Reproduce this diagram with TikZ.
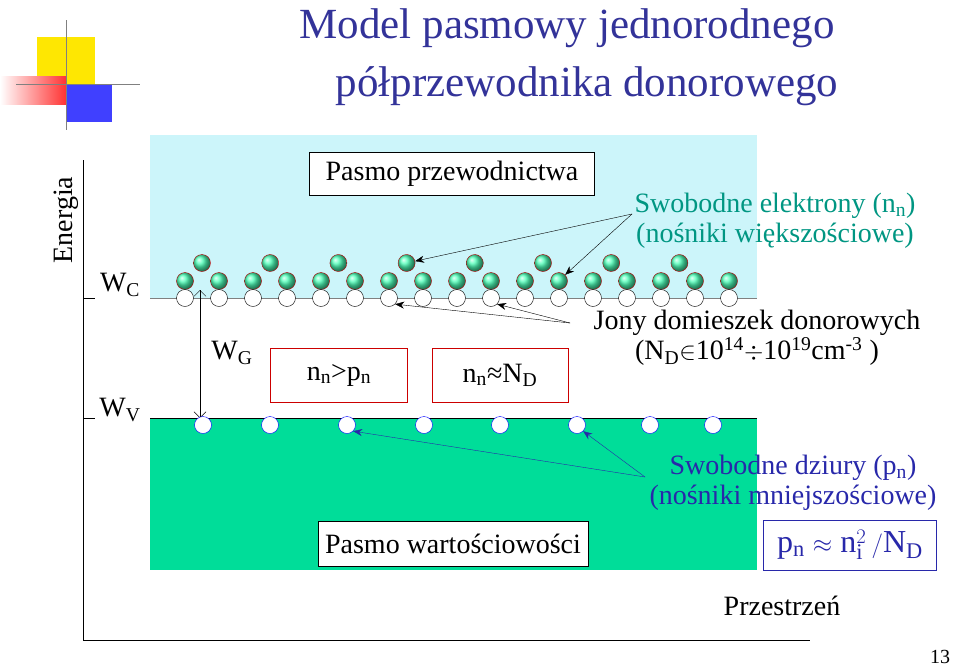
\documentclass[tikz,border=0pt]{standalone}
\usepackage{fontspec}
\setmainfont{Liberation Serif}
\usetikzlibrary{arrows.meta}
\definecolor{titleblue}{RGB}{51,51,153}
\definecolor{condcyan}{RGB}{204,245,250}
\definecolor{valgreen}{RGB}{0,221,153}
\definecolor{elteal}{RGB}{0,150,130}
\definecolor{holeblue}{RGB}{40,40,170}
\tikzset{
  lbl/.style={font=\fontsize{28}{30}\selectfont},
  box/.style={draw,fill=white,inner sep=0pt},
  elec/.style={circle,draw=red!70!black,inner sep=0pt,minimum size=17pt,ball color=green!40!cyan!70!white},
  ion/.style={circle,draw,fill=white,inner sep=0pt,minimum size=17pt},
  hole/.style={circle,draw=blue,fill=white,inner sep=0pt,minimum size=17pt},
  arr/.style={-{Stealth[length=9pt,width=7pt]}}
}
\begin{document}
\begin{tikzpicture}[x=1pt,y=-1pt]
  \useasboundingbox (0,0) rectangle (959,667);
  % logo
  \fill[yellow!90!orange] (37,37) rectangle (95,85);
  \shade[left color=white,right color=red!80] (0,76) rectangle (66,104);
  \fill[blue!75] (66,85) rectangle (112,122);
  \draw[gray] (16,84) -- (140,84);
  \draw[gray] (66,20) -- (66,130);
  % title
  \node[titleblue,font=\fontsize{43}{45}\selectfont] (t1) at (567,28) {Model pasmowy jednorodnego};
  \node[titleblue,font=\fontsize{43}{45}\selectfont] (t2) at (587,86) {półprzewodnika donorowego};
  % bands
  \fill[condcyan] (150,135) rectangle (757,298);
  \fill[valgreen] (150,418) rectangle (757,570);
  \draw[gray] (150,298) -- (757,298);
  \draw[thick] (150,418) -- (757,418);
  % axes
  \draw (83,160) -- (83,640) -- (810,640);
  \draw (83,298) -- (95,298);
  \draw (83,418) -- (95,418);
  \node[lbl,rotate=90] (en) at (66,220) {Energia};
  \node[lbl] (prz) at (782,606) {Przestrzeń};
  \node[lbl] (wc) at (120,285) {W\textsubscript{C}};
  \node[lbl] (wv) at (120,410) {W\textsubscript{V}};
  \node[lbl] (wg) at (232,353) {W\textsubscript{G}};
  \coordinate (gt) at (200,290);
  \coordinate (gb) at (200,418);
  \draw[{Straight Barb[length=6pt]}-{Straight Barb[length=6pt]}] (gt) -- (gb);
  \node[box,lbl,minimum width=285pt,minimum height=43pt] (pc) at (452,174) {Pasmo przewodnictwa};
  \node[box,lbl,minimum width=270pt,minimum height=45pt] (pv) at (453,544) {Pasmo wartościowości};
  % carriers
  \foreach \i in {0,...,16} {
    \node[elec] (e\i) at (185+34*\i,281) {};
    \node[ion] (d\i) at (185+34*\i,298) {};
  }
  \foreach \i in {0,...,7}
    \node[elec] (u\i) at (202+68.2*\i,263) {};
  \foreach \x [count=\i] in {203,270,347,424,500,577,650,713}
    \node[hole] (h\i) at (\x,425) {};
  % relations
  \node[box,draw=red!80!black,lbl,minimum width=137pt,minimum height=54pt] (r1) at (339,375) {n\textsubscript{n}>p\textsubscript{n}};
  \node[box,draw=red!80!black,lbl,minimum width=136pt,minimum height=54pt] (r2) at (500,375) {n\textsubscript{n}≈N\textsubscript{D}};
  % labels with arrows
  \node[lbl,elteal,align=center] (sel) at (775,221) {Swobodne elektrony (n\textsubscript{n})\\(nośniki większościowe)};
  \coordinate (selp) at (632,214);
  \draw[arr] (selp) -- (u3);
  \draw[arr] (selp) -- (e11.north east);
  \node[lbl,align=center] (jon) at (757,338) {Jony domieszek donorowych\\(N\textsubscript{D}$\in$10\textsuperscript{14}$\div$10\textsuperscript{19}cm\textsuperscript{-3} )};
  \coordinate (jonp) at (570,323);
  \draw[arr] (jonp) -- (d6.south east);
  \draw[arr] (jonp) -- (d9.south east);
  \node[lbl,holeblue,align=center] (dz) at (793,483) {Swobodne dziury (p\textsubscript{n})\\(nośniki mniejszościowe)};
  \coordinate (dzp) at (645,477);
  \draw[arr,holeblue] (dzp) -- (h3.south east);
  \draw[arr,holeblue] (dzp) -- (h6.south east);
  \node[box,draw=holeblue,text=holeblue,minimum width=173pt,minimum height=50pt,font=\fontsize{32}{34}\selectfont] (fm) at (850,545)
    {p\textsubscript{n} $\approx$ n$^{2}_{\mathrm{i}}$\,$\Big/$N\textsubscript{D}};
  \node[font=\fontsize{20}{22}\selectfont] (pg) at (940,657) {13};
\end{tikzpicture}
\end{document}
